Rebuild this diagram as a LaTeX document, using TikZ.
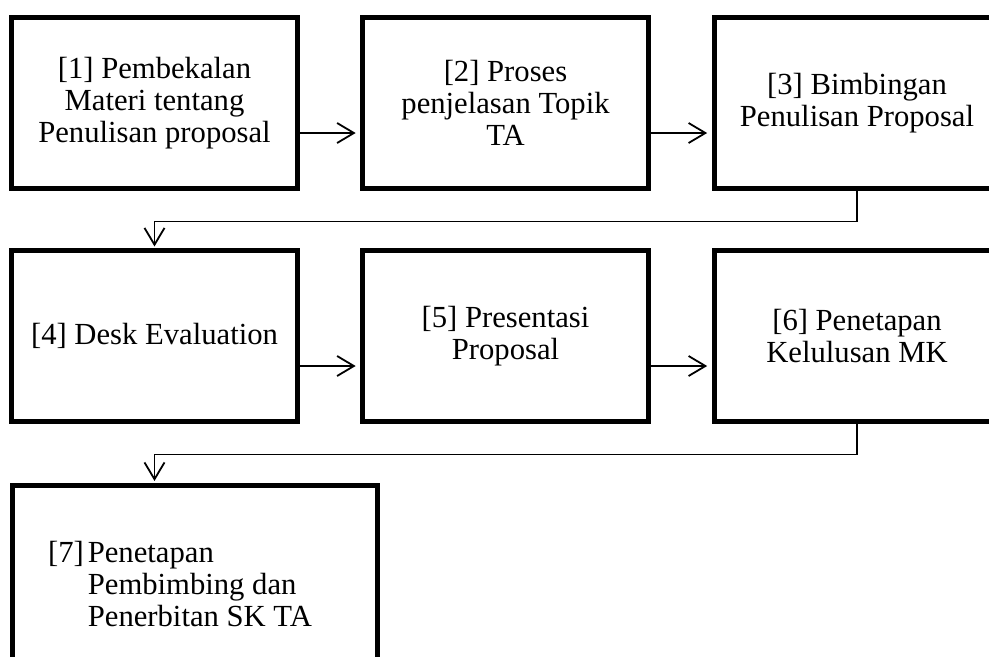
\documentclass[tikz,border=0pt]{standalone}
\usepackage{fontspec}
\setmainfont{Liberation Serif}
\usepackage{tikz}
\usetikzlibrary{arrows.meta, positioning, calc}

\begin{document}
\begin{tikzpicture}[
  x=0.025cm, y=-0.025cm,
  pbox/.style={draw, line width=0.125cm, minimum width=7.125cm, minimum height=4.25cm, align=center, font=\fontsize{21.8}{22.6}\selectfont, inner sep=0pt},
  conn/.style={line width=0.045cm, -{Straight Barb[length=0.42cm, width=0.5cm]}}
]
  \useasboundingbox (0,0) rectangle (989,657);
  \clip (0,0) rectangle (989,657);

  % first row
  \node[pbox] (b1) at (154.5, 103) {[1] Pembekalan\\Materi tentang\\Penulisan proposal};
  \node[pbox] (b2) at (505.5, 103) {[2] Proses\\penjelasan Topik\\TA};
  \node[pbox] (b3) at (857, 103) {[3] Bimbingan\\Penulisan Proposal};

  % second row
  \node[pbox] (b4) at (154.5, 336) {[4] Desk Evaluation};
  \node[pbox] (b5) at (505.5, 336) {[5] Presentasi\\Proposal};
  \node[pbox] (b6) at (857, 336) {[6] Penetapan\\Kelulusan MK};

  % last step
  \node[pbox, minimum width=9.14cm, minimum height=5.125cm, align=left] (b7) at (195, 588)
    {\begin{tabular}{@{}l@{\hspace{0.1cm}}l@{\hspace{0.75cm}}}
      [7] & Penetapan\\
          & Pembimbing dan\\
          & Penerbitan SK TA
    \end{tabular}};

  \draw[conn, shorten >=0.12cm] ([yshift=-0.75cm]b1.east) -- ([yshift=-0.75cm]b2.west);
  \draw[conn, shorten >=0.12cm] ([yshift=-0.75cm]b2.east) -- ([yshift=-0.75cm]b3.west);
  \draw[conn, shorten >=0.12cm] ([yshift=-0.75cm]b4.east) -- ([yshift=-0.75cm]b5.west);
  \draw[conn, shorten >=0.12cm] ([yshift=-0.75cm]b5.east) -- ([yshift=-0.75cm]b6.west);

  \draw[conn, shorten >=0.05cm] (b3.south) -- ++(0,31) -| (b4.north);
  \draw[conn, shorten >=0.05cm] (b6.south) -- ++(0,31) -| (b4.south |- b7.north);
\end{tikzpicture}
\end{document}
